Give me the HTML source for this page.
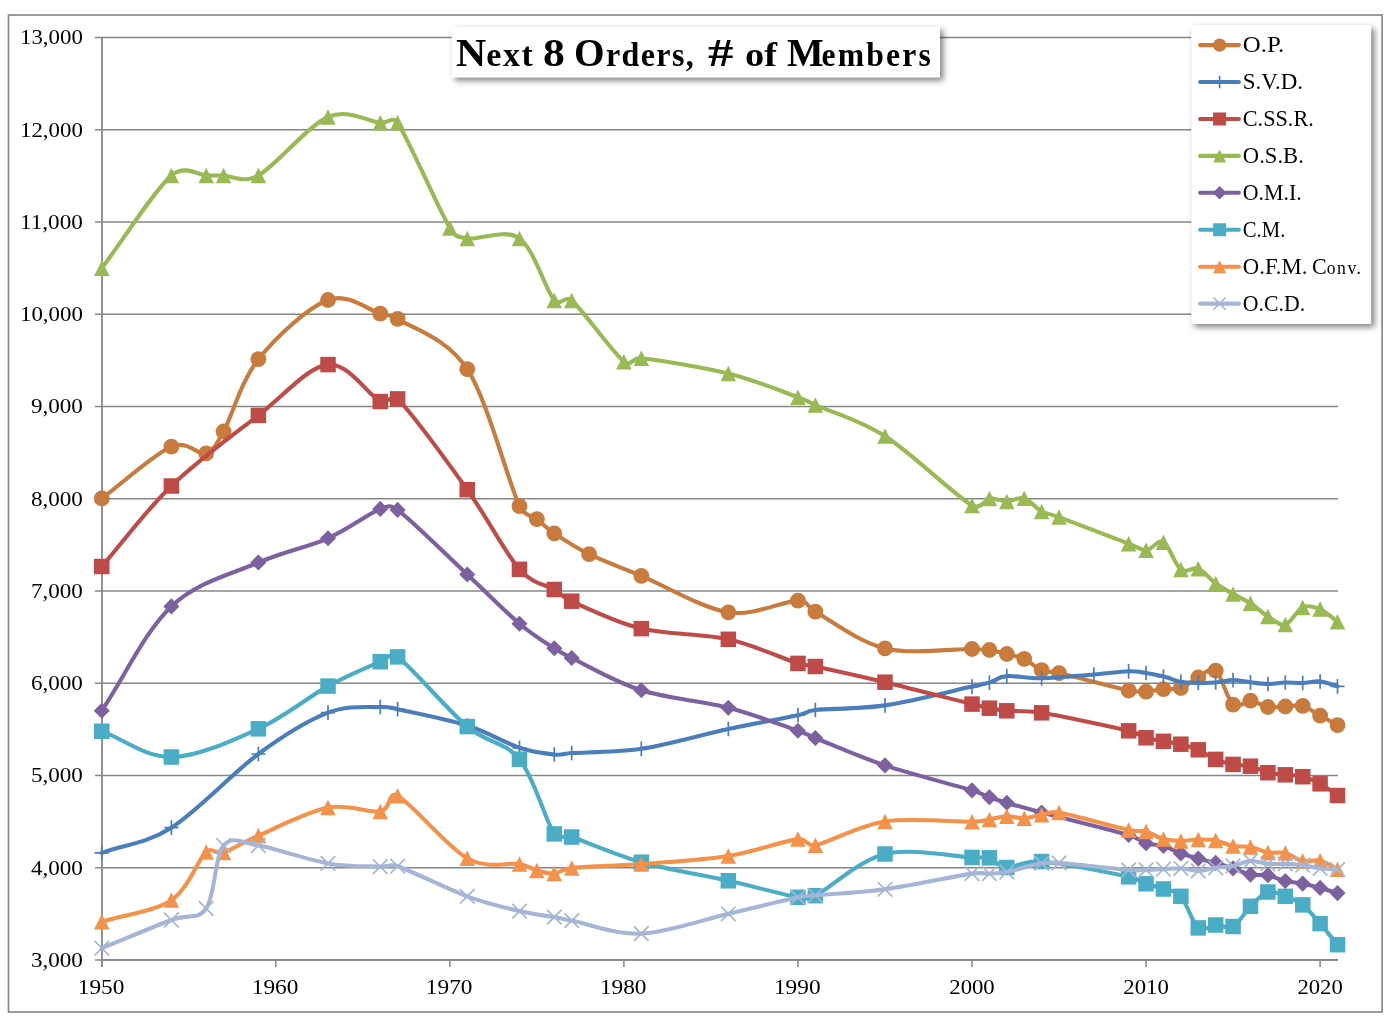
<!DOCTYPE html>
<html lang="en"><head><meta charset="utf-8"><title>Next 8 Orders, # of Members</title>
<style>
html,body{margin:0;padding:0;background:#fff;}
body{width:1390px;height:1020px;overflow:hidden;position:relative;font-family:"Liberation Serif",serif;}
svg{position:absolute;left:0;top:0;display:block}
text{font-family:"Liberation Serif",serif;fill:#000}
.t{position:absolute;font:bold 33.0px/40.5px "Liberation Serif",serif;white-space:nowrap;transform-origin:0 0;color:#000;margin:0;padding:0}
.t.f::first-letter{font-size:40.5px;letter-spacing:0;color:#000}
.t.c{font-size:40.5px}
.t.f.t0::first-letter{margin-right:0.19px}
.t.f.t2::first-letter{margin-right:1.44px}
.t.f.t5::first-letter{margin-right:-2.29px}
.g{position:absolute;font:normal 18.0px/22.5px "Liberation Serif",serif;white-space:nowrap;transform-origin:0 0;color:#000;margin:0;padding:0}
.g.f::first-letter{font-size:22.5px;letter-spacing:0;color:#000}
.g.c{font-size:22.5px}
.g.f.g0::first-letter{margin-right:0.00px}
</style></head><body>
<svg width="1390" height="1020" viewBox="0 0 1390 1020">
<defs>
<filter id="sh" x="-5%" y="-20%" width="112%" height="150%"><feGaussianBlur stdDeviation="3"/></filter>
</defs>
<rect x="0" y="0" width="1390" height="1020" fill="#fff"/>
<rect x="8.5" y="15.0" width="1373.6" height="997.0" fill="#fff" stroke="#8a8a8a" stroke-width="1.7"/>

<path d="M95.0,37.40 H1338.0 M95.0,129.65 H1338.0 M95.0,221.90 H1338.0 M95.0,314.15 H1338.0 M95.0,406.40 H1338.0 M95.0,498.65 H1338.0 M95.0,590.90 H1338.0 M95.0,683.15 H1338.0 M95.0,775.40 H1338.0 M95.0,867.65 H1338.0 M95.0,959.90 H1338.0" stroke="#868686" stroke-width="1.5" fill="none"/>
<path d="M102.0,37.40 V967.10" stroke="#868686" stroke-width="1.8" fill="none"/>
<path d="M101.1,959.90 H1338.0" stroke="#868686" stroke-width="1.8" fill="none"/>
<path d="M275.80,959.90 v7.2 M449.85,959.90 v7.2 M623.90,959.90 v7.2 M797.95,959.90 v7.2 M972.00,959.90 v7.2 M1146.05,959.90 v7.2 M1320.10,959.90 v7.2" stroke="#868686" stroke-width="1.5" fill="none"/>
<text x="82.9" y="44.30" font-size="21.5" text-anchor="end" textLength="62.9" lengthAdjust="spacingAndGlyphs">13,000</text>
<text x="82.9" y="136.55" font-size="21.5" text-anchor="end" textLength="62.9" lengthAdjust="spacingAndGlyphs">12,000</text>
<text x="82.9" y="228.80" font-size="21.5" text-anchor="end" textLength="62.9" lengthAdjust="spacingAndGlyphs">11,000</text>
<text x="82.9" y="321.05" font-size="21.5" text-anchor="end" textLength="62.9" lengthAdjust="spacingAndGlyphs">10,000</text>
<text x="82.9" y="413.30" font-size="21.5" text-anchor="end" textLength="51.9" lengthAdjust="spacingAndGlyphs">9,000</text>
<text x="82.9" y="505.55" font-size="21.5" text-anchor="end" textLength="51.9" lengthAdjust="spacingAndGlyphs">8,000</text>
<text x="82.9" y="597.80" font-size="21.5" text-anchor="end" textLength="51.9" lengthAdjust="spacingAndGlyphs">7,000</text>
<text x="82.9" y="690.05" font-size="21.5" text-anchor="end" textLength="51.9" lengthAdjust="spacingAndGlyphs">6,000</text>
<text x="82.9" y="782.30" font-size="21.5" text-anchor="end" textLength="51.9" lengthAdjust="spacingAndGlyphs">5,000</text>
<text x="82.9" y="874.55" font-size="21.5" text-anchor="end" textLength="51.9" lengthAdjust="spacingAndGlyphs">4,000</text>
<text x="82.9" y="966.80" font-size="21.5" text-anchor="end" textLength="51.9" lengthAdjust="spacingAndGlyphs">3,000</text>
<text x="101.05" y="994.4" font-size="21" text-anchor="middle" textLength="46.6" lengthAdjust="spacingAndGlyphs">1950</text>
<text x="275.10" y="994.4" font-size="21" text-anchor="middle" textLength="46.6" lengthAdjust="spacingAndGlyphs">1960</text>
<text x="449.15" y="994.4" font-size="21" text-anchor="middle" textLength="46.6" lengthAdjust="spacingAndGlyphs">1970</text>
<text x="623.20" y="994.4" font-size="21" text-anchor="middle" textLength="46.6" lengthAdjust="spacingAndGlyphs">1980</text>
<text x="797.25" y="994.4" font-size="21" text-anchor="middle" textLength="46.6" lengthAdjust="spacingAndGlyphs">1990</text>
<text x="972.00" y="994.4" font-size="21" text-anchor="middle" textLength="45.4" lengthAdjust="spacingAndGlyphs">2000</text>
<text x="1146.05" y="994.4" font-size="21" text-anchor="middle" textLength="45.4" lengthAdjust="spacingAndGlyphs">2010</text>
<text x="1320.10" y="994.4" font-size="21" text-anchor="middle" textLength="45.4" lengthAdjust="spacingAndGlyphs">2020</text>
<path d="M101.75,498.40 C124.96,481.17 153.97,454.20 171.37,446.70 C187.65,439.69 198.04,455.77 206.18,453.40 C212.96,451.43 216.80,443.73 223.59,431.50 C232.29,415.80 240.99,381.12 258.39,359.20 C275.80,337.28 307.71,307.60 328.01,300.00 C348.32,292.40 368.63,310.45 380.23,313.60 C389.01,315.98 389.97,314.00 397.63,318.90 C412.14,328.17 446.95,338.00 467.25,369.20 C487.56,400.40 507.87,481.10 519.47,506.10 C524.06,515.98 534.58,517.41 536.88,519.20 C542.68,523.73 545.58,527.47 554.28,533.30 C562.98,539.13 574.59,547.10 589.09,554.20 C603.59,561.30 618.10,566.22 641.31,575.90 C664.51,585.58 702.22,608.18 728.33,612.30 C754.44,616.42 783.45,600.70 797.95,600.60 C808.27,600.53 806.31,606.73 815.36,611.70 C829.86,619.67 858.87,642.18 884.98,648.40 C911.08,654.62 954.60,648.73 972.00,649.00 C980.72,649.13 986.50,649.58 989.41,650.00 C995.21,650.83 1001.01,652.53 1006.81,654.00 C1012.61,655.47 1018.41,656.10 1024.22,658.80 C1030.02,661.50 1035.82,667.82 1041.62,670.20 C1045.06,671.61 1050.43,671.10 1059.03,673.10 C1073.53,676.48 1114.14,687.42 1128.64,690.50 C1137.17,692.31 1142.64,691.73 1146.05,691.60 C1151.85,691.38 1157.65,689.80 1163.46,689.20 C1169.26,688.60 1175.06,689.95 1180.86,688.00 C1186.66,686.05 1192.46,680.38 1198.27,677.50 C1204.07,674.62 1209.87,666.18 1215.67,670.70 C1221.47,675.22 1227.27,699.60 1233.08,704.60 C1238.88,709.60 1244.68,700.30 1250.48,700.70 C1256.28,701.10 1262.08,706.03 1267.88,707.00 C1273.69,707.97 1279.49,706.68 1285.29,706.50 C1291.09,706.32 1296.89,704.38 1302.70,705.90 C1308.50,707.42 1314.30,712.40 1320.10,715.60 C1325.90,718.80 1331.70,721.93 1337.51,725.10" stroke="#C97B3D" stroke-width="4.1" fill="none" stroke-linecap="round" stroke-linejoin="round"/>
<g><circle cx="101.75" cy="498.40" r="7.90" fill="#C97B3D"/><circle cx="171.37" cy="446.70" r="7.90" fill="#C97B3D"/><circle cx="206.18" cy="453.40" r="7.90" fill="#C97B3D"/><circle cx="223.59" cy="431.50" r="7.90" fill="#C97B3D"/><circle cx="258.39" cy="359.20" r="7.90" fill="#C97B3D"/><circle cx="328.01" cy="300.00" r="7.90" fill="#C97B3D"/><circle cx="380.23" cy="313.60" r="7.90" fill="#C97B3D"/><circle cx="397.63" cy="318.90" r="7.90" fill="#C97B3D"/><circle cx="467.25" cy="369.20" r="7.90" fill="#C97B3D"/><circle cx="519.47" cy="506.10" r="7.90" fill="#C97B3D"/><circle cx="536.88" cy="519.20" r="7.90" fill="#C97B3D"/><circle cx="554.28" cy="533.30" r="7.90" fill="#C97B3D"/><circle cx="589.09" cy="554.20" r="7.90" fill="#C97B3D"/><circle cx="641.31" cy="575.90" r="7.90" fill="#C97B3D"/><circle cx="728.33" cy="612.30" r="7.90" fill="#C97B3D"/><circle cx="797.95" cy="600.60" r="7.90" fill="#C97B3D"/><circle cx="815.36" cy="611.70" r="7.90" fill="#C97B3D"/><circle cx="884.98" cy="648.40" r="7.90" fill="#C97B3D"/><circle cx="972.00" cy="649.00" r="7.90" fill="#C97B3D"/><circle cx="989.41" cy="650.00" r="7.90" fill="#C97B3D"/><circle cx="1006.81" cy="654.00" r="7.90" fill="#C97B3D"/><circle cx="1024.22" cy="658.80" r="7.90" fill="#C97B3D"/><circle cx="1041.62" cy="670.20" r="7.90" fill="#C97B3D"/><circle cx="1059.03" cy="673.10" r="7.90" fill="#C97B3D"/><circle cx="1128.64" cy="690.50" r="7.90" fill="#C97B3D"/><circle cx="1146.05" cy="691.60" r="7.90" fill="#C97B3D"/><circle cx="1163.46" cy="689.20" r="7.90" fill="#C97B3D"/><circle cx="1180.86" cy="688.00" r="7.90" fill="#C97B3D"/><circle cx="1198.27" cy="677.50" r="7.90" fill="#C97B3D"/><circle cx="1215.67" cy="670.70" r="7.90" fill="#C97B3D"/><circle cx="1233.08" cy="704.60" r="7.90" fill="#C97B3D"/><circle cx="1250.48" cy="700.70" r="7.90" fill="#C97B3D"/><circle cx="1267.88" cy="707.00" r="7.90" fill="#C97B3D"/><circle cx="1285.29" cy="706.50" r="7.90" fill="#C97B3D"/><circle cx="1302.70" cy="705.90" r="7.90" fill="#C97B3D"/><circle cx="1320.10" cy="715.60" r="7.90" fill="#C97B3D"/><circle cx="1337.51" cy="725.10" r="7.90" fill="#C97B3D"/></g>
<path d="M101.75,852.90 C124.96,844.50 145.26,844.18 171.37,827.70 C197.48,811.22 232.29,773.17 258.39,754.00 C284.50,734.83 307.71,720.53 328.01,712.70 C348.32,704.87 368.63,707.58 380.23,707.00 C388.99,706.56 389.05,707.38 397.63,709.20 C412.14,712.28 446.95,719.07 467.25,725.50 C487.56,731.93 504.97,742.97 519.47,747.80 C533.97,752.63 545.58,753.63 554.28,754.50 C562.97,755.37 562.97,753.57 571.69,753.00 C586.19,752.05 615.20,752.80 641.31,748.80 C667.41,744.80 702.22,734.60 728.33,729.00 C754.44,723.40 783.45,718.37 797.95,715.20 C806.82,713.26 806.33,711.02 815.36,710.00 C829.86,708.37 858.87,709.30 884.98,705.40 C911.08,701.50 954.60,690.40 972.00,686.60 C980.72,684.70 986.50,683.48 989.41,682.60 C995.21,680.85 998.11,676.82 1006.81,676.10 C1015.51,675.38 1027.12,678.57 1041.62,678.30 C1056.12,678.03 1079.33,675.67 1093.84,674.50 C1108.34,673.33 1119.94,671.55 1128.64,671.30 C1137.35,671.05 1140.25,672.12 1146.05,673.00 C1151.85,673.88 1157.65,675.13 1163.46,676.60 C1169.26,678.07 1175.06,680.75 1180.86,681.80 C1186.66,682.85 1192.46,682.78 1198.27,682.90 C1204.07,683.02 1209.87,682.97 1215.67,682.50 C1221.47,682.03 1227.27,680.13 1233.08,680.10 C1238.88,680.07 1244.68,681.65 1250.48,682.30 C1256.28,682.95 1262.08,683.97 1267.88,684.00 C1273.69,684.03 1279.49,682.67 1285.29,682.50 C1291.09,682.33 1296.89,683.17 1302.70,683.00 C1308.50,682.83 1314.30,680.95 1320.10,681.50 C1325.90,682.05 1331.70,684.70 1337.51,686.30" stroke="#4A7EBB" stroke-width="4.1" fill="none" stroke-linecap="round" stroke-linejoin="round"/>
<g><path d="M101.75,845.55 V860.25 M94.70,852.90 H108.80" stroke="#4A7EBB" stroke-width="1.7" fill="none"/><path d="M171.37,820.35 V835.05 M164.32,827.70 H178.42" stroke="#4A7EBB" stroke-width="1.7" fill="none"/><path d="M258.39,746.65 V761.35 M251.34,754.00 H265.44" stroke="#4A7EBB" stroke-width="1.7" fill="none"/><path d="M328.01,705.35 V720.05 M320.96,712.70 H335.06" stroke="#4A7EBB" stroke-width="1.7" fill="none"/><path d="M380.23,699.65 V714.35 M373.18,707.00 H387.28" stroke="#4A7EBB" stroke-width="1.7" fill="none"/><path d="M397.63,701.85 V716.55 M390.58,709.20 H404.69" stroke="#4A7EBB" stroke-width="1.7" fill="none"/><path d="M467.25,718.15 V732.85 M460.20,725.50 H474.31" stroke="#4A7EBB" stroke-width="1.7" fill="none"/><path d="M519.47,740.45 V755.15 M512.42,747.80 H526.52" stroke="#4A7EBB" stroke-width="1.7" fill="none"/><path d="M554.28,747.15 V761.85 M547.23,754.50 H561.33" stroke="#4A7EBB" stroke-width="1.7" fill="none"/><path d="M571.69,745.65 V760.35 M564.63,753.00 H578.74" stroke="#4A7EBB" stroke-width="1.7" fill="none"/><path d="M641.31,741.45 V756.15 M634.25,748.80 H648.36" stroke="#4A7EBB" stroke-width="1.7" fill="none"/><path d="M728.33,721.65 V736.35 M721.28,729.00 H735.38" stroke="#4A7EBB" stroke-width="1.7" fill="none"/><path d="M797.95,707.85 V722.55 M790.90,715.20 H805.00" stroke="#4A7EBB" stroke-width="1.7" fill="none"/><path d="M815.36,702.65 V717.35 M808.30,710.00 H822.41" stroke="#4A7EBB" stroke-width="1.7" fill="none"/><path d="M884.98,698.05 V712.75 M877.92,705.40 H892.03" stroke="#4A7EBB" stroke-width="1.7" fill="none"/><path d="M972.00,679.25 V693.95 M964.95,686.60 H979.05" stroke="#4A7EBB" stroke-width="1.7" fill="none"/><path d="M989.41,675.25 V689.95 M982.36,682.60 H996.46" stroke="#4A7EBB" stroke-width="1.7" fill="none"/><path d="M1006.81,668.75 V683.45 M999.76,676.10 H1013.86" stroke="#4A7EBB" stroke-width="1.7" fill="none"/><path d="M1041.62,670.95 V685.65 M1034.57,678.30 H1048.67" stroke="#4A7EBB" stroke-width="1.7" fill="none"/><path d="M1093.84,667.15 V681.85 M1086.79,674.50 H1100.88" stroke="#4A7EBB" stroke-width="1.7" fill="none"/><path d="M1128.64,663.95 V678.65 M1121.60,671.30 H1135.69" stroke="#4A7EBB" stroke-width="1.7" fill="none"/><path d="M1146.05,665.65 V680.35 M1139.00,673.00 H1153.10" stroke="#4A7EBB" stroke-width="1.7" fill="none"/><path d="M1163.46,669.25 V683.95 M1156.41,676.60 H1170.51" stroke="#4A7EBB" stroke-width="1.7" fill="none"/><path d="M1180.86,674.45 V689.15 M1173.81,681.80 H1187.91" stroke="#4A7EBB" stroke-width="1.7" fill="none"/><path d="M1198.27,675.55 V690.25 M1191.22,682.90 H1205.32" stroke="#4A7EBB" stroke-width="1.7" fill="none"/><path d="M1215.67,675.15 V689.85 M1208.62,682.50 H1222.72" stroke="#4A7EBB" stroke-width="1.7" fill="none"/><path d="M1233.08,672.75 V687.45 M1226.03,680.10 H1240.12" stroke="#4A7EBB" stroke-width="1.7" fill="none"/><path d="M1250.48,674.95 V689.65 M1243.43,682.30 H1257.53" stroke="#4A7EBB" stroke-width="1.7" fill="none"/><path d="M1267.88,676.65 V691.35 M1260.84,684.00 H1274.93" stroke="#4A7EBB" stroke-width="1.7" fill="none"/><path d="M1285.29,675.15 V689.85 M1278.24,682.50 H1292.34" stroke="#4A7EBB" stroke-width="1.7" fill="none"/><path d="M1302.70,675.65 V690.35 M1295.65,683.00 H1309.75" stroke="#4A7EBB" stroke-width="1.7" fill="none"/><path d="M1320.10,674.15 V688.85 M1313.05,681.50 H1327.15" stroke="#4A7EBB" stroke-width="1.7" fill="none"/><path d="M1337.51,678.95 V693.65 M1330.46,686.30 H1344.56" stroke="#4A7EBB" stroke-width="1.7" fill="none"/></g>
<path d="M101.75,566.50 C124.96,539.67 145.26,511.18 171.37,486.00 C197.48,460.82 232.29,435.63 258.39,415.40 C284.50,395.17 307.71,366.92 328.01,364.60 C348.32,362.28 368.63,395.78 380.23,401.50 C388.12,405.39 391.45,392.64 397.63,398.90 C412.14,413.60 446.95,461.30 467.25,489.70 C487.56,518.10 504.97,552.67 519.47,569.30 C532.70,584.47 546.34,584.65 554.28,589.50 C560.02,593.01 562.12,596.90 571.69,601.20 C586.19,607.72 615.20,622.25 641.31,628.60 C667.41,634.95 702.22,633.50 728.33,639.30 C754.44,645.10 783.45,658.87 797.95,663.40 C806.39,666.04 806.71,664.63 815.36,666.50 C829.86,669.63 858.87,675.93 884.98,682.20 C911.08,688.47 954.60,699.77 972.00,704.10 C980.68,706.26 986.51,707.64 989.41,708.20 C995.21,709.32 998.11,710.03 1006.81,710.80 C1014.18,711.45 1024.42,709.98 1041.62,712.80 C1061.93,716.13 1111.24,726.63 1128.64,730.80 C1137.77,732.98 1143.01,736.88 1146.05,737.80 C1151.85,739.55 1157.65,740.23 1163.46,741.30 C1169.26,742.37 1175.06,742.78 1180.86,744.20 C1186.66,745.62 1192.46,747.27 1198.27,749.80 C1204.07,752.33 1209.87,756.97 1215.67,759.40 C1221.47,761.83 1227.27,763.27 1233.08,764.40 C1238.88,765.53 1244.68,764.82 1250.48,766.20 C1256.28,767.58 1262.08,771.27 1267.88,772.70 C1273.69,774.13 1279.49,774.13 1285.29,774.80 C1291.09,775.47 1296.89,775.20 1302.70,776.70 C1308.50,778.20 1314.30,780.67 1320.10,783.80 C1325.90,786.93 1331.70,791.60 1337.51,795.50" stroke="#BE4B48" stroke-width="4.1" fill="none" stroke-linecap="round" stroke-linejoin="round"/>
<g><rect x="94.00" y="558.75" width="15.50" height="15.50" fill="#BE4B48"/><rect x="163.62" y="478.25" width="15.50" height="15.50" fill="#BE4B48"/><rect x="250.64" y="407.65" width="15.50" height="15.50" fill="#BE4B48"/><rect x="320.26" y="356.85" width="15.50" height="15.50" fill="#BE4B48"/><rect x="372.48" y="393.75" width="15.50" height="15.50" fill="#BE4B48"/><rect x="389.88" y="391.15" width="15.50" height="15.50" fill="#BE4B48"/><rect x="459.50" y="481.95" width="15.50" height="15.50" fill="#BE4B48"/><rect x="511.72" y="561.55" width="15.50" height="15.50" fill="#BE4B48"/><rect x="546.53" y="581.75" width="15.50" height="15.50" fill="#BE4B48"/><rect x="563.94" y="593.45" width="15.50" height="15.50" fill="#BE4B48"/><rect x="633.56" y="620.85" width="15.50" height="15.50" fill="#BE4B48"/><rect x="720.58" y="631.55" width="15.50" height="15.50" fill="#BE4B48"/><rect x="790.20" y="655.65" width="15.50" height="15.50" fill="#BE4B48"/><rect x="807.61" y="658.75" width="15.50" height="15.50" fill="#BE4B48"/><rect x="877.23" y="674.45" width="15.50" height="15.50" fill="#BE4B48"/><rect x="964.25" y="696.35" width="15.50" height="15.50" fill="#BE4B48"/><rect x="981.66" y="700.45" width="15.50" height="15.50" fill="#BE4B48"/><rect x="999.06" y="703.05" width="15.50" height="15.50" fill="#BE4B48"/><rect x="1033.87" y="705.05" width="15.50" height="15.50" fill="#BE4B48"/><rect x="1120.89" y="723.05" width="15.50" height="15.50" fill="#BE4B48"/><rect x="1138.30" y="730.05" width="15.50" height="15.50" fill="#BE4B48"/><rect x="1155.71" y="733.55" width="15.50" height="15.50" fill="#BE4B48"/><rect x="1173.11" y="736.45" width="15.50" height="15.50" fill="#BE4B48"/><rect x="1190.52" y="742.05" width="15.50" height="15.50" fill="#BE4B48"/><rect x="1207.92" y="751.65" width="15.50" height="15.50" fill="#BE4B48"/><rect x="1225.33" y="756.65" width="15.50" height="15.50" fill="#BE4B48"/><rect x="1242.73" y="758.45" width="15.50" height="15.50" fill="#BE4B48"/><rect x="1260.13" y="764.95" width="15.50" height="15.50" fill="#BE4B48"/><rect x="1277.54" y="767.05" width="15.50" height="15.50" fill="#BE4B48"/><rect x="1294.95" y="768.95" width="15.50" height="15.50" fill="#BE4B48"/><rect x="1312.35" y="776.05" width="15.50" height="15.50" fill="#BE4B48"/><rect x="1329.76" y="787.75" width="15.50" height="15.50" fill="#BE4B48"/></g>
<path d="M101.75,268.20 C124.96,237.30 153.97,190.95 171.37,175.50 C184.39,163.95 199.67,175.50 206.18,175.50 C214.88,175.50 214.88,175.50 223.59,175.50 C231.18,175.50 243.21,184.01 258.39,175.50 C275.80,165.75 307.71,125.78 328.01,117.00 C348.32,108.22 368.63,121.83 380.23,122.80 C388.90,123.52 392.83,115.54 397.63,122.80 C409.24,140.33 438.25,208.73 449.85,228.00 C455.08,236.68 457.23,236.90 467.25,238.40 C478.86,240.13 504.97,228.07 519.47,238.40 C533.97,248.73 545.58,290.07 554.28,300.40 C559.89,307.06 565.15,294.65 571.69,300.40 C583.29,310.62 612.30,352.07 623.90,361.70 C630.73,367.37 632.48,357.20 641.31,358.20 C658.71,360.17 702.22,367.00 728.33,373.50 C754.44,380.00 783.45,391.95 797.95,397.20 C806.92,400.45 806.65,401.11 815.36,405.00 C829.86,411.48 858.87,419.35 884.98,436.10 C911.08,452.85 954.60,495.12 972.00,505.50 C980.07,510.32 986.71,498.72 989.41,498.40 C995.21,497.72 1001.01,501.43 1006.81,501.40 C1012.61,501.37 1018.41,496.52 1024.22,498.20 C1030.02,499.88 1035.82,508.35 1041.62,511.50 C1045.05,513.36 1050.45,513.93 1059.03,517.10 C1073.53,522.47 1114.14,538.17 1128.64,543.70 C1137.34,547.02 1142.57,550.45 1146.05,550.30 C1151.85,550.05 1157.65,539.00 1163.46,542.20 C1169.26,545.40 1175.06,565.08 1180.86,569.50 C1186.66,573.92 1192.46,566.37 1198.27,568.70 C1204.07,571.03 1209.87,579.30 1215.67,583.50 C1221.47,587.70 1227.27,590.60 1233.08,593.90 C1238.88,597.20 1244.68,599.55 1250.48,603.30 C1256.28,607.05 1262.08,612.85 1267.88,616.40 C1273.69,619.95 1279.49,626.10 1285.29,624.60 C1291.09,623.10 1296.89,609.98 1302.70,607.40 C1308.50,604.82 1314.30,606.70 1320.10,609.10 C1325.90,611.50 1331.70,617.57 1337.51,621.80" stroke="#98B954" stroke-width="4.1" fill="none" stroke-linecap="round" stroke-linejoin="round"/>
<g><path d="M101.75,260.45 L109.50,275.95 L94.00,275.95 Z" fill="#98B954"/><path d="M171.37,167.75 L179.12,183.25 L163.62,183.25 Z" fill="#98B954"/><path d="M206.18,167.75 L213.93,183.25 L198.43,183.25 Z" fill="#98B954"/><path d="M223.59,167.75 L231.34,183.25 L215.84,183.25 Z" fill="#98B954"/><path d="M258.39,167.75 L266.14,183.25 L250.64,183.25 Z" fill="#98B954"/><path d="M328.01,109.25 L335.76,124.75 L320.26,124.75 Z" fill="#98B954"/><path d="M380.23,115.05 L387.98,130.55 L372.48,130.55 Z" fill="#98B954"/><path d="M397.63,115.05 L405.38,130.55 L389.88,130.55 Z" fill="#98B954"/><path d="M449.85,220.25 L457.60,235.75 L442.10,235.75 Z" fill="#98B954"/><path d="M467.25,230.65 L475.00,246.15 L459.50,246.15 Z" fill="#98B954"/><path d="M519.47,230.65 L527.22,246.15 L511.72,246.15 Z" fill="#98B954"/><path d="M554.28,292.65 L562.03,308.15 L546.53,308.15 Z" fill="#98B954"/><path d="M571.69,292.65 L579.44,308.15 L563.94,308.15 Z" fill="#98B954"/><path d="M623.90,353.95 L631.65,369.45 L616.15,369.45 Z" fill="#98B954"/><path d="M641.31,350.45 L649.06,365.95 L633.56,365.95 Z" fill="#98B954"/><path d="M728.33,365.75 L736.08,381.25 L720.58,381.25 Z" fill="#98B954"/><path d="M797.95,389.45 L805.70,404.95 L790.20,404.95 Z" fill="#98B954"/><path d="M815.36,397.25 L823.11,412.75 L807.61,412.75 Z" fill="#98B954"/><path d="M884.98,428.35 L892.73,443.85 L877.23,443.85 Z" fill="#98B954"/><path d="M972.00,497.75 L979.75,513.25 L964.25,513.25 Z" fill="#98B954"/><path d="M989.41,490.65 L997.16,506.15 L981.66,506.15 Z" fill="#98B954"/><path d="M1006.81,493.65 L1014.56,509.15 L999.06,509.15 Z" fill="#98B954"/><path d="M1024.22,490.45 L1031.97,505.95 L1016.47,505.95 Z" fill="#98B954"/><path d="M1041.62,503.75 L1049.37,519.25 L1033.87,519.25 Z" fill="#98B954"/><path d="M1059.03,509.35 L1066.78,524.85 L1051.28,524.85 Z" fill="#98B954"/><path d="M1128.64,535.95 L1136.39,551.45 L1120.89,551.45 Z" fill="#98B954"/><path d="M1146.05,542.55 L1153.80,558.05 L1138.30,558.05 Z" fill="#98B954"/><path d="M1163.46,534.45 L1171.21,549.95 L1155.71,549.95 Z" fill="#98B954"/><path d="M1180.86,561.75 L1188.61,577.25 L1173.11,577.25 Z" fill="#98B954"/><path d="M1198.27,560.95 L1206.02,576.45 L1190.52,576.45 Z" fill="#98B954"/><path d="M1215.67,575.75 L1223.42,591.25 L1207.92,591.25 Z" fill="#98B954"/><path d="M1233.08,586.15 L1240.83,601.65 L1225.33,601.65 Z" fill="#98B954"/><path d="M1250.48,595.55 L1258.23,611.05 L1242.73,611.05 Z" fill="#98B954"/><path d="M1267.88,608.65 L1275.63,624.15 L1260.13,624.15 Z" fill="#98B954"/><path d="M1285.29,616.85 L1293.04,632.35 L1277.54,632.35 Z" fill="#98B954"/><path d="M1302.70,599.65 L1310.45,615.15 L1294.95,615.15 Z" fill="#98B954"/><path d="M1320.10,601.35 L1327.85,616.85 L1312.35,616.85 Z" fill="#98B954"/><path d="M1337.51,614.05 L1345.26,629.55 L1329.76,629.55 Z" fill="#98B954"/></g>
<path d="M101.75,710.70 C124.96,675.93 145.26,631.10 171.37,606.40 C197.48,581.70 232.29,573.85 258.39,562.50 C284.50,551.15 307.71,547.23 328.01,538.30 C348.32,529.37 368.63,513.63 380.23,508.90 C388.30,505.61 390.67,504.65 397.63,509.90 C412.14,520.83 446.95,555.53 467.25,574.50 C487.56,593.47 504.97,611.40 519.47,623.70 C533.97,636.00 545.58,642.58 554.28,648.30 C562.61,653.77 562.71,653.67 571.69,658.00 C586.19,665.00 615.20,682.02 641.31,690.30 C667.41,698.58 702.22,700.95 728.33,707.70 C754.44,714.45 783.45,725.75 797.95,730.80 C806.84,733.90 806.60,734.52 815.36,738.00 C829.86,743.77 858.87,756.67 884.98,765.40 C911.08,774.13 954.60,785.10 972.00,790.40 C980.94,793.12 986.43,796.14 989.41,797.20 C995.21,799.27 998.11,800.25 1006.81,802.80 C1014.30,804.99 1024.15,807.88 1041.62,812.50 C1061.93,817.87 1111.24,829.87 1128.64,835.00 C1137.89,837.73 1142.97,842.33 1146.05,843.30 C1151.85,845.13 1157.65,844.32 1163.46,846.00 C1169.26,847.68 1175.06,851.30 1180.86,853.40 C1186.66,855.50 1192.46,857.02 1198.27,858.60 C1204.07,860.18 1209.87,861.27 1215.67,862.90 C1221.47,864.53 1227.27,866.45 1233.08,868.40 C1238.88,870.35 1244.68,873.45 1250.48,874.60 C1256.28,875.75 1262.08,874.23 1267.88,875.30 C1273.69,876.37 1279.49,879.62 1285.29,881.00 C1291.09,882.38 1296.89,882.45 1302.70,883.60 C1308.50,884.75 1314.30,886.32 1320.10,887.90 C1325.90,889.48 1331.70,891.37 1337.51,893.10" stroke="#7D60A0" stroke-width="4.1" fill="none" stroke-linecap="round" stroke-linejoin="round"/>
<g><path d="M101.75,702.65 L109.80,710.70 L101.75,718.75 L93.70,710.70 Z" fill="#7D60A0"/><path d="M171.37,598.35 L179.42,606.40 L171.37,614.45 L163.32,606.40 Z" fill="#7D60A0"/><path d="M258.39,554.45 L266.44,562.50 L258.39,570.55 L250.34,562.50 Z" fill="#7D60A0"/><path d="M328.01,530.25 L336.06,538.30 L328.01,546.35 L319.96,538.30 Z" fill="#7D60A0"/><path d="M380.23,500.85 L388.28,508.90 L380.23,516.95 L372.18,508.90 Z" fill="#7D60A0"/><path d="M397.63,501.85 L405.69,509.90 L397.63,517.95 L389.58,509.90 Z" fill="#7D60A0"/><path d="M467.25,566.45 L475.31,574.50 L467.25,582.55 L459.20,574.50 Z" fill="#7D60A0"/><path d="M519.47,615.65 L527.52,623.70 L519.47,631.75 L511.42,623.70 Z" fill="#7D60A0"/><path d="M554.28,640.25 L562.33,648.30 L554.28,656.35 L546.23,648.30 Z" fill="#7D60A0"/><path d="M571.69,649.95 L579.74,658.00 L571.69,666.05 L563.64,658.00 Z" fill="#7D60A0"/><path d="M641.31,682.25 L649.36,690.30 L641.31,698.35 L633.26,690.30 Z" fill="#7D60A0"/><path d="M728.33,699.65 L736.38,707.70 L728.33,715.75 L720.28,707.70 Z" fill="#7D60A0"/><path d="M797.95,722.75 L806.00,730.80 L797.95,738.85 L789.90,730.80 Z" fill="#7D60A0"/><path d="M815.36,729.95 L823.40,738.00 L815.36,746.05 L807.31,738.00 Z" fill="#7D60A0"/><path d="M884.98,757.35 L893.02,765.40 L884.98,773.45 L876.93,765.40 Z" fill="#7D60A0"/><path d="M972.00,782.35 L980.05,790.40 L972.00,798.45 L963.95,790.40 Z" fill="#7D60A0"/><path d="M989.41,789.15 L997.46,797.20 L989.41,805.25 L981.36,797.20 Z" fill="#7D60A0"/><path d="M1006.81,794.75 L1014.86,802.80 L1006.81,810.85 L998.76,802.80 Z" fill="#7D60A0"/><path d="M1041.62,804.45 L1049.67,812.50 L1041.62,820.55 L1033.57,812.50 Z" fill="#7D60A0"/><path d="M1128.64,826.95 L1136.69,835.00 L1128.64,843.05 L1120.60,835.00 Z" fill="#7D60A0"/><path d="M1146.05,835.25 L1154.10,843.30 L1146.05,851.35 L1138.00,843.30 Z" fill="#7D60A0"/><path d="M1163.46,837.95 L1171.51,846.00 L1163.46,854.05 L1155.41,846.00 Z" fill="#7D60A0"/><path d="M1180.86,845.35 L1188.91,853.40 L1180.86,861.45 L1172.81,853.40 Z" fill="#7D60A0"/><path d="M1198.27,850.55 L1206.32,858.60 L1198.27,866.65 L1190.22,858.60 Z" fill="#7D60A0"/><path d="M1215.67,854.85 L1223.72,862.90 L1215.67,870.95 L1207.62,862.90 Z" fill="#7D60A0"/><path d="M1233.08,860.35 L1241.12,868.40 L1233.08,876.45 L1225.03,868.40 Z" fill="#7D60A0"/><path d="M1250.48,866.55 L1258.53,874.60 L1250.48,882.65 L1242.43,874.60 Z" fill="#7D60A0"/><path d="M1267.88,867.25 L1275.93,875.30 L1267.88,883.35 L1259.84,875.30 Z" fill="#7D60A0"/><path d="M1285.29,872.95 L1293.34,881.00 L1285.29,889.05 L1277.24,881.00 Z" fill="#7D60A0"/><path d="M1302.70,875.55 L1310.75,883.60 L1302.70,891.65 L1294.65,883.60 Z" fill="#7D60A0"/><path d="M1320.10,879.85 L1328.15,887.90 L1320.10,895.95 L1312.05,887.90 Z" fill="#7D60A0"/><path d="M1337.51,885.05 L1345.56,893.10 L1337.51,901.15 L1329.46,893.10 Z" fill="#7D60A0"/></g>
<path d="M101.75,731.20 C124.96,739.80 145.26,757.40 171.37,757.00 C197.48,756.60 232.29,740.62 258.39,728.80 C284.50,716.98 307.71,697.28 328.01,686.10 C348.32,674.92 368.63,666.57 380.23,661.70 C388.55,658.21 390.40,651.50 397.63,656.90 C412.14,667.72 446.95,709.55 467.25,726.60 C487.56,743.65 504.97,741.32 519.47,759.20 C533.97,777.08 545.58,820.93 554.28,833.90 C559.21,841.24 563.28,834.27 571.69,837.00 C586.19,841.72 615.20,854.90 641.31,862.20 C667.41,869.50 702.22,874.95 728.33,880.80 C754.44,886.65 783.45,894.82 797.95,897.30 C806.56,898.77 807.53,899.59 815.36,895.70 C829.86,888.48 858.87,860.38 884.98,854.00 C911.08,847.62 954.60,856.77 972.00,857.40 C980.70,857.72 986.51,856.96 989.41,857.80 C995.21,859.48 998.11,866.88 1006.81,867.50 C1014.36,868.03 1024.01,860.16 1041.62,861.50 C1061.93,863.05 1111.24,873.08 1128.64,876.80 C1137.82,878.76 1142.99,882.73 1146.05,883.80 C1151.85,885.83 1157.65,886.92 1163.46,889.00 C1169.26,891.08 1175.06,889.82 1180.86,896.30 C1186.66,902.78 1192.46,923.12 1198.27,927.90 C1204.07,932.68 1209.87,925.23 1215.67,925.00 C1221.47,924.77 1227.27,929.62 1233.08,926.50 C1238.88,923.38 1244.68,912.05 1250.48,906.30 C1256.28,900.55 1262.08,893.67 1267.88,892.00 C1273.69,890.33 1279.49,894.15 1285.29,896.30 C1291.09,898.45 1296.89,900.35 1302.70,904.90 C1308.50,909.45 1314.30,916.97 1320.10,923.60 C1325.90,930.23 1331.70,937.67 1337.51,944.70" stroke="#4BACC6" stroke-width="4.1" fill="none" stroke-linecap="round" stroke-linejoin="round"/>
<g><rect x="94.00" y="723.45" width="15.50" height="15.50" fill="#4BACC6"/><rect x="163.62" y="749.25" width="15.50" height="15.50" fill="#4BACC6"/><rect x="250.64" y="721.05" width="15.50" height="15.50" fill="#4BACC6"/><rect x="320.26" y="678.35" width="15.50" height="15.50" fill="#4BACC6"/><rect x="372.48" y="653.95" width="15.50" height="15.50" fill="#4BACC6"/><rect x="389.88" y="649.15" width="15.50" height="15.50" fill="#4BACC6"/><rect x="459.50" y="718.85" width="15.50" height="15.50" fill="#4BACC6"/><rect x="511.72" y="751.45" width="15.50" height="15.50" fill="#4BACC6"/><rect x="546.53" y="826.15" width="15.50" height="15.50" fill="#4BACC6"/><rect x="563.94" y="829.25" width="15.50" height="15.50" fill="#4BACC6"/><rect x="633.56" y="854.45" width="15.50" height="15.50" fill="#4BACC6"/><rect x="720.58" y="873.05" width="15.50" height="15.50" fill="#4BACC6"/><rect x="790.20" y="889.55" width="15.50" height="15.50" fill="#4BACC6"/><rect x="807.61" y="887.95" width="15.50" height="15.50" fill="#4BACC6"/><rect x="877.23" y="846.25" width="15.50" height="15.50" fill="#4BACC6"/><rect x="964.25" y="849.65" width="15.50" height="15.50" fill="#4BACC6"/><rect x="981.66" y="850.05" width="15.50" height="15.50" fill="#4BACC6"/><rect x="999.06" y="859.75" width="15.50" height="15.50" fill="#4BACC6"/><rect x="1033.87" y="853.75" width="15.50" height="15.50" fill="#4BACC6"/><rect x="1120.89" y="869.05" width="15.50" height="15.50" fill="#4BACC6"/><rect x="1138.30" y="876.05" width="15.50" height="15.50" fill="#4BACC6"/><rect x="1155.71" y="881.25" width="15.50" height="15.50" fill="#4BACC6"/><rect x="1173.11" y="888.55" width="15.50" height="15.50" fill="#4BACC6"/><rect x="1190.52" y="920.15" width="15.50" height="15.50" fill="#4BACC6"/><rect x="1207.92" y="917.25" width="15.50" height="15.50" fill="#4BACC6"/><rect x="1225.33" y="918.75" width="15.50" height="15.50" fill="#4BACC6"/><rect x="1242.73" y="898.55" width="15.50" height="15.50" fill="#4BACC6"/><rect x="1260.13" y="884.25" width="15.50" height="15.50" fill="#4BACC6"/><rect x="1277.54" y="888.55" width="15.50" height="15.50" fill="#4BACC6"/><rect x="1294.95" y="897.15" width="15.50" height="15.50" fill="#4BACC6"/><rect x="1312.35" y="915.85" width="15.50" height="15.50" fill="#4BACC6"/><rect x="1329.76" y="936.95" width="15.50" height="15.50" fill="#4BACC6"/></g>
<path d="M101.75,921.80 C124.96,914.57 153.97,911.73 171.37,900.10 C188.78,888.47 197.48,859.93 206.18,852.00 C212.61,846.13 215.28,855.11 223.59,852.50 C232.29,849.77 240.99,843.08 258.39,835.60 C275.80,828.12 307.71,811.62 328.01,807.60 C348.32,803.58 368.63,813.47 380.23,811.50 C391.79,809.54 387.31,790.25 397.63,795.80 C412.14,803.60 446.95,846.92 467.25,858.30 C487.56,869.68 507.87,862.07 519.47,864.10 C528.60,865.70 532.31,869.27 536.88,870.50 C542.68,872.07 548.48,873.92 554.28,873.50 C557.91,873.24 562.61,868.99 571.69,868.00 C586.19,866.42 615.20,866.02 641.31,864.00 C667.41,861.98 702.22,860.05 728.33,855.90 C754.44,851.75 783.45,840.88 797.95,839.10 C807.10,837.97 806.32,847.03 815.36,845.20 C829.86,842.27 858.87,825.40 884.98,821.50 C911.08,817.60 954.60,822.15 972.00,821.80 C980.78,821.62 986.48,819.87 989.41,819.40 C995.21,818.47 1001.01,816.38 1006.81,816.20 C1012.61,816.02 1018.41,818.53 1024.22,818.30 C1030.02,818.07 1035.82,815.77 1041.62,814.80 C1045.08,814.22 1050.38,810.99 1059.03,812.50 C1073.53,815.03 1114.14,826.83 1128.64,830.00 C1137.18,831.86 1142.64,830.61 1146.05,831.50 C1151.85,833.02 1157.65,837.53 1163.46,839.10 C1169.26,840.67 1175.06,840.83 1180.86,840.90 C1186.66,840.97 1192.46,839.57 1198.27,839.50 C1204.07,839.43 1209.87,839.42 1215.67,840.50 C1221.47,841.58 1227.27,844.93 1233.08,846.00 C1238.88,847.07 1244.68,845.80 1250.48,846.90 C1256.28,848.00 1262.08,851.60 1267.88,852.60 C1273.69,853.60 1279.49,851.48 1285.29,852.90 C1291.09,854.32 1296.89,859.80 1302.70,861.10 C1308.50,862.40 1314.30,859.33 1320.10,860.70 C1325.90,862.07 1331.70,866.43 1337.51,869.30" stroke="#F4914A" stroke-width="4.1" fill="none" stroke-linecap="round" stroke-linejoin="round"/>
<g><path d="M101.75,914.05 L109.50,929.55 L94.00,929.55 Z" fill="#F4914A"/><path d="M171.37,892.35 L179.12,907.85 L163.62,907.85 Z" fill="#F4914A"/><path d="M206.18,844.25 L213.93,859.75 L198.43,859.75 Z" fill="#F4914A"/><path d="M223.59,844.75 L231.34,860.25 L215.84,860.25 Z" fill="#F4914A"/><path d="M258.39,827.85 L266.14,843.35 L250.64,843.35 Z" fill="#F4914A"/><path d="M328.01,799.85 L335.76,815.35 L320.26,815.35 Z" fill="#F4914A"/><path d="M380.23,803.75 L387.98,819.25 L372.48,819.25 Z" fill="#F4914A"/><path d="M397.63,788.05 L405.38,803.55 L389.88,803.55 Z" fill="#F4914A"/><path d="M467.25,850.55 L475.00,866.05 L459.50,866.05 Z" fill="#F4914A"/><path d="M519.47,856.35 L527.22,871.85 L511.72,871.85 Z" fill="#F4914A"/><path d="M536.88,862.75 L544.62,878.25 L529.12,878.25 Z" fill="#F4914A"/><path d="M554.28,865.75 L562.03,881.25 L546.53,881.25 Z" fill="#F4914A"/><path d="M571.69,860.25 L579.44,875.75 L563.94,875.75 Z" fill="#F4914A"/><path d="M641.31,856.25 L649.06,871.75 L633.56,871.75 Z" fill="#F4914A"/><path d="M728.33,848.15 L736.08,863.65 L720.58,863.65 Z" fill="#F4914A"/><path d="M797.95,831.35 L805.70,846.85 L790.20,846.85 Z" fill="#F4914A"/><path d="M815.36,837.45 L823.11,852.95 L807.61,852.95 Z" fill="#F4914A"/><path d="M884.98,813.75 L892.73,829.25 L877.23,829.25 Z" fill="#F4914A"/><path d="M972.00,814.05 L979.75,829.55 L964.25,829.55 Z" fill="#F4914A"/><path d="M989.41,811.65 L997.16,827.15 L981.66,827.15 Z" fill="#F4914A"/><path d="M1006.81,808.45 L1014.56,823.95 L999.06,823.95 Z" fill="#F4914A"/><path d="M1024.22,810.55 L1031.97,826.05 L1016.47,826.05 Z" fill="#F4914A"/><path d="M1041.62,807.05 L1049.37,822.55 L1033.87,822.55 Z" fill="#F4914A"/><path d="M1059.03,804.75 L1066.78,820.25 L1051.28,820.25 Z" fill="#F4914A"/><path d="M1128.64,822.25 L1136.39,837.75 L1120.89,837.75 Z" fill="#F4914A"/><path d="M1146.05,823.75 L1153.80,839.25 L1138.30,839.25 Z" fill="#F4914A"/><path d="M1163.46,831.35 L1171.21,846.85 L1155.71,846.85 Z" fill="#F4914A"/><path d="M1180.86,833.15 L1188.61,848.65 L1173.11,848.65 Z" fill="#F4914A"/><path d="M1198.27,831.75 L1206.02,847.25 L1190.52,847.25 Z" fill="#F4914A"/><path d="M1215.67,832.75 L1223.42,848.25 L1207.92,848.25 Z" fill="#F4914A"/><path d="M1233.08,838.25 L1240.83,853.75 L1225.33,853.75 Z" fill="#F4914A"/><path d="M1250.48,839.15 L1258.23,854.65 L1242.73,854.65 Z" fill="#F4914A"/><path d="M1267.88,844.85 L1275.63,860.35 L1260.13,860.35 Z" fill="#F4914A"/><path d="M1285.29,845.15 L1293.04,860.65 L1277.54,860.65 Z" fill="#F4914A"/><path d="M1302.70,853.35 L1310.45,868.85 L1294.95,868.85 Z" fill="#F4914A"/><path d="M1320.10,852.95 L1327.85,868.45 L1312.35,868.45 Z" fill="#F4914A"/><path d="M1337.51,861.55 L1345.26,877.05 L1329.76,877.05 Z" fill="#F4914A"/></g>
<path d="M101.75,948.20 C124.96,938.80 153.97,926.62 171.37,920.00 C188.50,913.49 197.61,920.72 206.18,908.50 C214.88,896.08 214.88,856.00 223.59,845.50 C232.16,835.15 241.24,842.56 258.39,845.50 C275.80,848.48 307.71,859.88 328.01,863.40 C348.32,866.92 368.63,866.13 380.23,866.60 C388.93,866.95 389.40,863.38 397.63,866.20 C412.14,871.17 446.95,888.92 467.25,896.40 C487.56,903.88 504.97,907.65 519.47,911.10 C533.97,914.55 545.58,915.52 554.28,917.10 C559.51,918.05 562.96,918.95 571.69,920.60 C586.19,923.35 615.20,934.73 641.31,933.60 C667.41,932.47 702.22,919.85 728.33,913.80 C754.44,907.75 783.45,900.38 797.95,897.30 C806.52,895.48 806.63,896.10 815.36,895.30 C829.86,893.97 858.87,892.92 884.98,889.30 C911.08,885.68 954.60,876.22 972.00,873.60 C980.61,872.31 986.54,873.73 989.41,873.60 C995.12,873.34 998.24,873.69 1006.81,872.00 C1015.51,870.28 1032.92,864.82 1041.62,863.30 C1050.20,861.81 1050.35,862.23 1059.03,862.90 C1073.53,864.02 1114.14,868.83 1128.64,870.00 C1137.32,870.70 1142.58,869.98 1146.05,869.90 C1151.85,869.77 1157.65,869.47 1163.46,869.20 C1169.26,868.93 1175.06,868.02 1180.86,868.30 C1186.66,868.58 1192.46,870.98 1198.27,870.90 C1204.07,870.82 1209.87,868.63 1215.67,867.80 C1221.47,866.97 1227.27,867.03 1233.08,865.90 C1238.88,864.77 1244.68,861.33 1250.48,861.00 C1256.28,860.67 1262.08,863.42 1267.88,863.90 C1273.69,864.38 1279.49,863.68 1285.29,863.90 C1291.09,864.12 1296.89,864.47 1302.70,865.20 C1308.50,865.93 1314.30,867.57 1320.10,868.30 C1325.90,869.03 1331.70,869.17 1337.51,869.60" stroke="#A5B5D5" stroke-width="4.1" fill="none" stroke-linecap="round" stroke-linejoin="round"/>
<g><path d="M94.45,940.90 L109.05,955.50 M94.45,955.50 L109.05,940.90" stroke="#A5B5D5" stroke-width="1.7" fill="none"/><path d="M164.07,912.70 L178.67,927.30 M164.07,927.30 L178.67,912.70" stroke="#A5B5D5" stroke-width="1.7" fill="none"/><path d="M198.88,901.20 L213.48,915.80 M198.88,915.80 L213.48,901.20" stroke="#A5B5D5" stroke-width="1.7" fill="none"/><path d="M216.28,838.20 L230.89,852.80 M216.28,852.80 L230.89,838.20" stroke="#A5B5D5" stroke-width="1.7" fill="none"/><path d="M251.09,838.20 L265.69,852.80 M251.09,852.80 L265.69,838.20" stroke="#A5B5D5" stroke-width="1.7" fill="none"/><path d="M320.71,856.10 L335.31,870.70 M320.71,870.70 L335.31,856.10" stroke="#A5B5D5" stroke-width="1.7" fill="none"/><path d="M372.93,859.30 L387.53,873.90 M372.93,873.90 L387.53,859.30" stroke="#A5B5D5" stroke-width="1.7" fill="none"/><path d="M390.33,858.90 L404.94,873.50 M390.33,873.50 L404.94,858.90" stroke="#A5B5D5" stroke-width="1.7" fill="none"/><path d="M459.95,889.10 L474.56,903.70 M459.95,903.70 L474.56,889.10" stroke="#A5B5D5" stroke-width="1.7" fill="none"/><path d="M512.17,903.80 L526.77,918.40 M512.17,918.40 L526.77,903.80" stroke="#A5B5D5" stroke-width="1.7" fill="none"/><path d="M546.98,909.80 L561.58,924.40 M546.98,924.40 L561.58,909.80" stroke="#A5B5D5" stroke-width="1.7" fill="none"/><path d="M564.39,913.30 L578.99,927.90 M564.39,927.90 L578.99,913.30" stroke="#A5B5D5" stroke-width="1.7" fill="none"/><path d="M634.01,926.30 L648.61,940.90 M634.01,940.90 L648.61,926.30" stroke="#A5B5D5" stroke-width="1.7" fill="none"/><path d="M721.03,906.50 L735.63,921.10 M721.03,921.10 L735.63,906.50" stroke="#A5B5D5" stroke-width="1.7" fill="none"/><path d="M790.65,890.00 L805.25,904.60 M790.65,904.60 L805.25,890.00" stroke="#A5B5D5" stroke-width="1.7" fill="none"/><path d="M808.06,888.00 L822.65,902.60 M808.06,902.60 L822.65,888.00" stroke="#A5B5D5" stroke-width="1.7" fill="none"/><path d="M877.68,882.00 L892.27,896.60 M877.68,896.60 L892.27,882.00" stroke="#A5B5D5" stroke-width="1.7" fill="none"/><path d="M964.70,866.30 L979.30,880.90 M964.70,880.90 L979.30,866.30" stroke="#A5B5D5" stroke-width="1.7" fill="none"/><path d="M982.11,866.30 L996.71,880.90 M982.11,880.90 L996.71,866.30" stroke="#A5B5D5" stroke-width="1.7" fill="none"/><path d="M999.51,864.70 L1014.11,879.30 M999.51,879.30 L1014.11,864.70" stroke="#A5B5D5" stroke-width="1.7" fill="none"/><path d="M1034.32,856.00 L1048.92,870.60 M1034.32,870.60 L1048.92,856.00" stroke="#A5B5D5" stroke-width="1.7" fill="none"/><path d="M1051.73,855.60 L1066.33,870.20 M1051.73,870.20 L1066.33,855.60" stroke="#A5B5D5" stroke-width="1.7" fill="none"/><path d="M1121.35,862.70 L1135.94,877.30 M1121.35,877.30 L1135.94,862.70" stroke="#A5B5D5" stroke-width="1.7" fill="none"/><path d="M1138.75,862.60 L1153.35,877.20 M1138.75,877.20 L1153.35,862.60" stroke="#A5B5D5" stroke-width="1.7" fill="none"/><path d="M1156.16,861.90 L1170.76,876.50 M1156.16,876.50 L1170.76,861.90" stroke="#A5B5D5" stroke-width="1.7" fill="none"/><path d="M1173.56,861.00 L1188.16,875.60 M1173.56,875.60 L1188.16,861.00" stroke="#A5B5D5" stroke-width="1.7" fill="none"/><path d="M1190.97,863.60 L1205.57,878.20 M1190.97,878.20 L1205.57,863.60" stroke="#A5B5D5" stroke-width="1.7" fill="none"/><path d="M1208.37,860.50 L1222.97,875.10 M1208.37,875.10 L1222.97,860.50" stroke="#A5B5D5" stroke-width="1.7" fill="none"/><path d="M1225.78,858.60 L1240.38,873.20 M1225.78,873.20 L1240.38,858.60" stroke="#A5B5D5" stroke-width="1.7" fill="none"/><path d="M1243.18,853.70 L1257.78,868.30 M1243.18,868.30 L1257.78,853.70" stroke="#A5B5D5" stroke-width="1.7" fill="none"/><path d="M1260.59,856.60 L1275.18,871.20 M1260.59,871.20 L1275.18,856.60" stroke="#A5B5D5" stroke-width="1.7" fill="none"/><path d="M1277.99,856.60 L1292.59,871.20 M1277.99,871.20 L1292.59,856.60" stroke="#A5B5D5" stroke-width="1.7" fill="none"/><path d="M1295.40,857.90 L1310.00,872.50 M1295.40,872.50 L1310.00,857.90" stroke="#A5B5D5" stroke-width="1.7" fill="none"/><path d="M1312.80,861.00 L1327.40,875.60 M1312.80,875.60 L1327.40,861.00" stroke="#A5B5D5" stroke-width="1.7" fill="none"/><path d="M1330.21,862.30 L1344.81,876.90 M1330.21,876.90 L1344.81,862.30" stroke="#A5B5D5" stroke-width="1.7" fill="none"/></g>
<rect x="454.8" y="29.9" width="488.4" height="50.6" fill="#000" opacity="0.5" filter="url(#sh)"/>
<rect x="451.6" y="26.7" width="488.4" height="50.9" fill="#fff"/>
<rect x="1194.5" y="28.2" width="179.9" height="299.0" fill="#000" opacity="0.5" filter="url(#sh)"/>
<rect x="1191.3" y="25" width="179.9" height="299.0" fill="#fff"/>
<path d="M1200.1,45.10 H1238.9" stroke="#C97B3D" stroke-width="4.1" stroke-linecap="round" fill="none"/>
<circle cx="1219.60" cy="45.10" r="6.65" fill="#C97B3D"/>
<text x="1242.8" y="52.20" font-size="22.5" textLength="41.5" lengthAdjust="spacingAndGlyphs">O.P.</text>
<path d="M1200.1,82.03 H1238.9" stroke="#4A7EBB" stroke-width="4.1" stroke-linecap="round" fill="none"/>
<path d="M1219.60,75.87 V88.19 M1213.74,82.03 H1225.46" stroke="#4A7EBB" stroke-width="1.7" fill="none"/>
<text x="1242.8" y="89.13" font-size="22.5" textLength="60.3" lengthAdjust="spacingAndGlyphs">S.V.D.</text>
<path d="M1200.1,118.96 H1238.9" stroke="#BE4B48" stroke-width="4.1" stroke-linecap="round" fill="none"/>
<rect x="1213.10" y="112.46" width="13.00" height="13.00" fill="#BE4B48"/>
<text x="1242.8" y="126.06" font-size="22.5" textLength="71.0" lengthAdjust="spacingAndGlyphs">C.SS.R.</text>
<path d="M1200.1,155.89 H1238.9" stroke="#98B954" stroke-width="4.1" stroke-linecap="round" fill="none"/>
<path d="M1219.60,149.39 L1226.10,162.39 L1213.10,162.39 Z" fill="#98B954"/>
<text x="1242.8" y="162.99" font-size="22.5" textLength="61.0" lengthAdjust="spacingAndGlyphs">O.S.B.</text>
<path d="M1200.1,192.82 H1238.9" stroke="#7D60A0" stroke-width="4.1" stroke-linecap="round" fill="none"/>
<path d="M1219.60,186.02 L1226.40,192.82 L1219.60,199.62 L1212.80,192.82 Z" fill="#7D60A0"/>
<text x="1242.8" y="199.92" font-size="22.5" textLength="59.0" lengthAdjust="spacingAndGlyphs">O.M.I.</text>
<path d="M1200.1,229.75 H1238.9" stroke="#4BACC6" stroke-width="4.1" stroke-linecap="round" fill="none"/>
<rect x="1213.10" y="223.25" width="13.00" height="13.00" fill="#4BACC6"/>
<text x="1242.8" y="236.85" font-size="22.5" textLength="42.5" lengthAdjust="spacingAndGlyphs">C.M.</text>
<path d="M1200.1,266.68 H1238.9" stroke="#F4914A" stroke-width="4.1" stroke-linecap="round" fill="none"/>
<path d="M1219.60,260.18 L1226.10,273.18 L1213.10,273.18 Z" fill="#F4914A"/>
<text x="1242.8" y="273.78" font-size="22.5" textLength="64.6" lengthAdjust="spacingAndGlyphs">O.F.M.</text>
<path d="M1200.1,303.61 H1238.9" stroke="#A5B5D5" stroke-width="4.1" stroke-linecap="round" fill="none"/>
<path d="M1213.48,297.49 L1225.72,309.73 M1213.48,309.73 L1225.72,297.49" stroke="#A5B5D5" stroke-width="1.7" fill="none"/>
<text x="1242.8" y="310.71" font-size="22.5" textLength="62.5" lengthAdjust="spacingAndGlyphs">O.C.D.</text>
</svg>
<div class="t f t0" style="left:455.60px;top:32.78px;transform:scaleX(1.0300);letter-spacing:1.55px">Next</div>
<div class="t c" style="left:543.00px;top:32.78px;transform:scaleX(1.0795);letter-spacing:0.00px">8</div>
<div class="t f t2" style="left:573.70px;top:32.78px;transform:scaleX(0.9700);letter-spacing:1.44px">Orders,</div>
<div class="t c" style="left:707.50px;top:32.78px;transform:scaleX(1.2559);letter-spacing:0.00px">#</div>
<div class="t l" style="left:744.60px;top:35.31px;transform:scaleX(1.1637);letter-spacing:0.00px">of</div>
<div class="t f t5" style="left:787.00px;top:32.78px;transform:scaleX(0.9600);letter-spacing:2.25px">Members</div>
<div class="g f g0" style="left:1312.20px;top:255.76px;transform:scaleX(0.9800);letter-spacing:1.56px">Conv.</div>
</body></html>
